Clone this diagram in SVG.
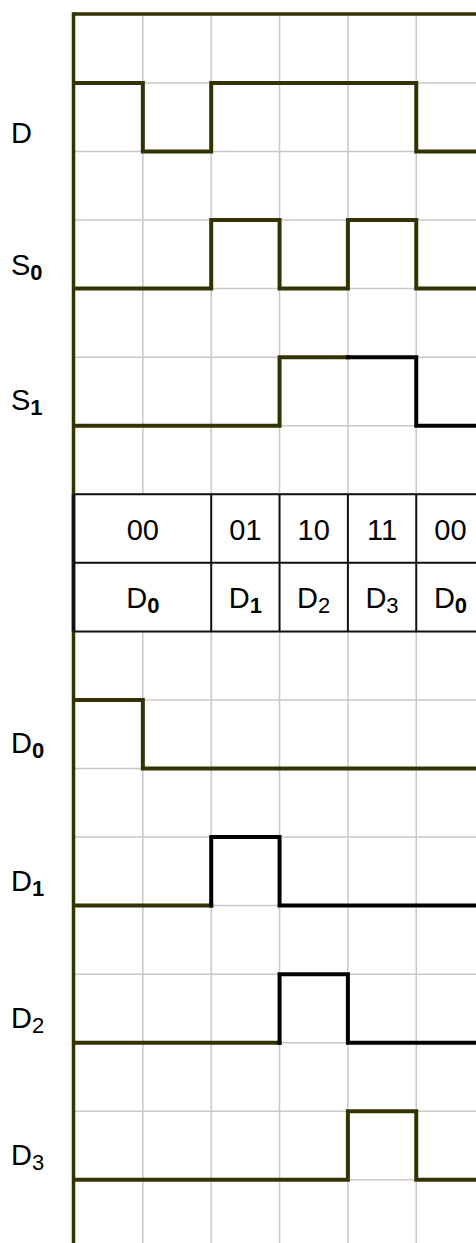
<svg xmlns="http://www.w3.org/2000/svg" width="476" height="1243" viewBox="0 0 476 1243">
<style>
.grid{stroke:#c8c8c8;stroke-width:1.5;fill:none}
.ol{stroke:#333300;stroke-width:4;fill:none;stroke-linejoin:miter;stroke-linecap:square}
.bk{stroke:#000;stroke-width:4;fill:none;stroke-linejoin:miter;stroke-linecap:square}
.tb{stroke:#111;stroke-width:2;fill:none}
.lbl{font-family:"Liberation Sans",Arial,sans-serif;font-size:29px;fill:#000}
.sb{font-size:22px;font-weight:bold}
.sr{font-size:22px}
.tc{text-anchor:middle}
</style>
<rect x="0" y="0" width="476" height="1243" fill="#fff"/>
<g id="grid" class="grid">
<path d="M142.85 14V1243M211.2 14V1243M279.55 14V1243M347.9 14V1243M416.25 14V1243"/>
<path d="M74 82.9H476M74 151.5H476M74 220.1H476M74 288.6H476M74 357.2H476M74 425.7H476M74 494.3H476M74 562.8H476M74 631.4H476M74 700H476M74 768.5H476M74 837.1H476M74 905.6H476M74 974.2H476M74 1042.7H476M74 1111.3H476M74 1179.8H476"/>
</g>
<g id="table">
<rect x="74" y="494.3" width="402" height="137.1" fill="#fff"/>
<path class="tb" d="M74 494.3H476M74 562.8H476M74 631.4H476M211.2 494.3V631.4M279.55 494.3V631.4M347.9 494.3V631.4M416.25 494.3V631.4"/>
<g class="lbl tc">
<text x="142.8" y="540">00</text>
<text x="245.4" y="540">01</text>
<text x="313.7" y="540">10</text>
<text x="382" y="540">11</text>
<text x="450.5" y="540">00</text>
<text x="142.8" y="608">D<tspan class="sb" dy="5">0</tspan></text>
<text x="245.4" y="608">D<tspan class="sb" dy="5">1</tspan></text>
<text x="313.7" y="608">D<tspan class="sr" dy="5">2</tspan></text>
<text x="382" y="608">D<tspan class="sr" dy="5">3</tspan></text>
<text x="450.5" y="608">D<tspan class="sb" dy="5">0</tspan></text>
</g>
</g>
<g id="axes">
<path d="M73.5 14H476" stroke="#333300" stroke-width="3.5" fill="none"/>
<path d="M73.5 12.3V1243" stroke="#333300" stroke-width="3.5" fill="none"/>
<path d="M73.5 494.3V631.4" stroke="#111" stroke-width="3.5" fill="none"/>
</g>
<g id="waveforms">
<g id="wave-D"><path class="ol" d="M74 82.9H142.85V151.5H211.2V82.9H416.25V151.5H478"/></g>
<g id="wave-S0"><path class="ol" d="M74 288.6H211.2V220.1H279.55V288.6H347.9V220.1H416.25V288.6H478"/></g>
<g id="wave-S1"><path class="ol" d="M74 425.7H279.55V357.2H347.9"/><path class="bk" d="M347.9 357.2H416.25V425.7H478"/></g>
<g id="wave-D0"><path class="ol" d="M74 700H142.85V768.5H478"/></g>
<g id="wave-D1"><path class="ol" d="M74 905.6H211.2"/><path class="bk" d="M211.2 905.6V837.1H279.55V905.6H478"/></g>
<g id="wave-D2"><path class="ol" d="M74 1042.7H279.55"/><path class="bk" d="M279.55 1042.7V974.2H347.9V1042.7H478"/></g>
<g id="wave-D3"><path class="ol" d="M74 1179.8H347.9V1111.3H416.25V1179.8H478"/></g>
</g>
<g id="labels" class="lbl">
<text id="lbl-D" x="11" y="143">D</text>
<text id="lbl-S0" x="11" y="275">S<tspan class="sb" dy="5">0</tspan></text>
<text id="lbl-S1" x="11" y="410">S<tspan class="sb" dy="5">1</tspan></text>
<text id="lbl-D0" x="11" y="753">D<tspan class="sb" dy="5">0</tspan></text>
<text id="lbl-D1" x="11" y="891">D<tspan class="sb" dy="5">1</tspan></text>
<text id="lbl-D2" x="11" y="1028">D<tspan class="sr" dy="5">2</tspan></text>
<text id="lbl-D3" x="11" y="1165">D<tspan class="sr" dy="5">3</tspan></text>
</g>
</svg>
